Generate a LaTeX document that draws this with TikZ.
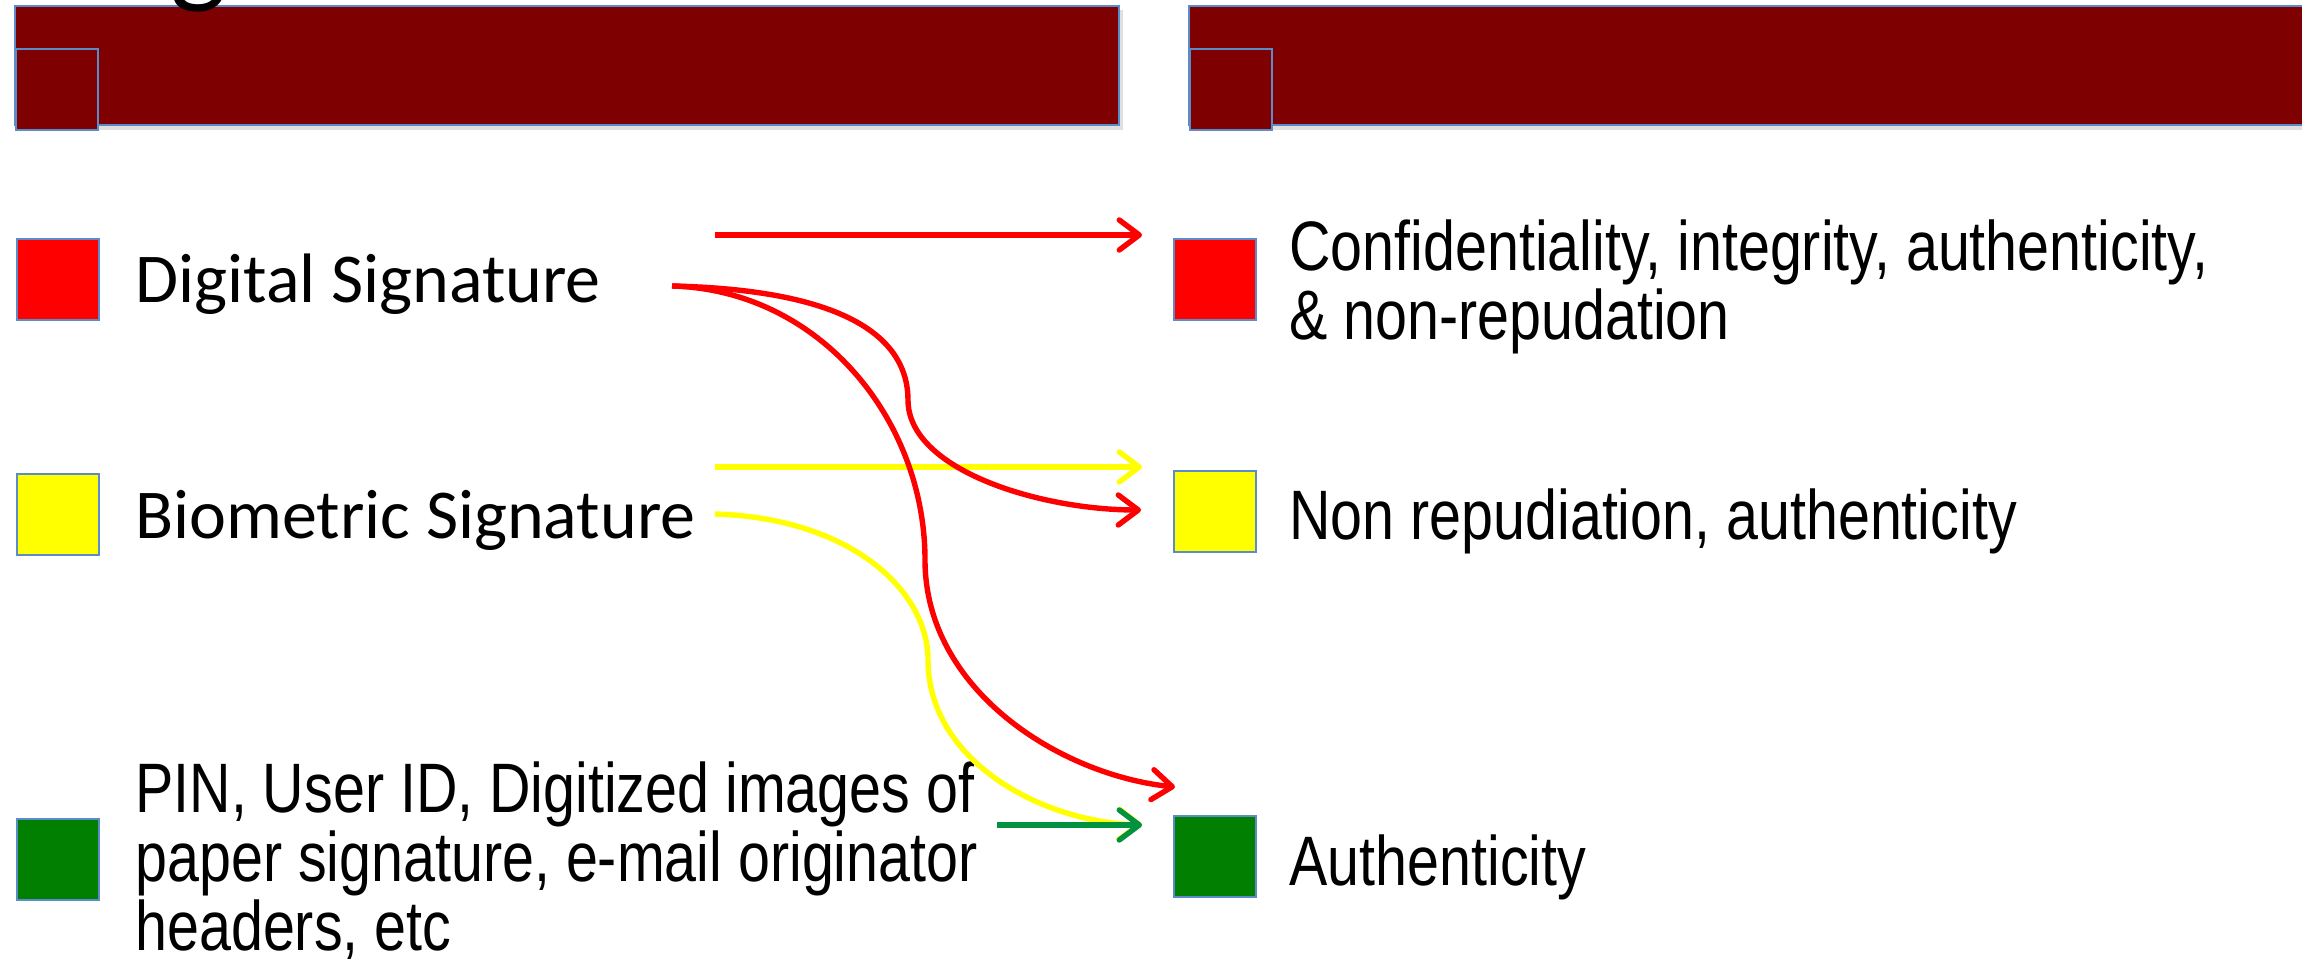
\documentclass[tikz,border=0pt]{standalone}
\usepackage{fontspec}
\setmainfont{Carlito}
\newfontfamily\narrowfont{Liberation Sans}[FakeStretch=0.82]
\usetikzlibrary{arrows.meta,calc}
\definecolor{maroonbar}{HTML}{7F0000}
\definecolor{boxedge}{HTML}{5B8BC9}
\definecolor{sqred}{HTML}{FF0000}
\definecolor{sqyellow}{HTML}{FFFF00}
\definecolor{sqgreen}{HTML}{007F00}
\definecolor{arrowgreen}{HTML}{00923F}
\begin{document}
\begin{tikzpicture}[x=0.5pt,y=-0.5pt,
  bar/.style={fill=maroonbar,draw=boxedge,line width=1.2pt},
  barshadow/.style={fill=black!12,draw=none},
  sq/.style={draw=boxedge,line width=1pt,minimum width=41pt,minimum height=40.5pt,inner sep=0pt,anchor=north west},
  lefttxt/.style={anchor=base west,inner sep=0pt,font=\fontsize{35}{40}\selectfont},
  righttxt/.style={anchor=base west,inner sep=0pt,align=left,font=\narrowfont\fontsize{35}{34.5}\selectfont},
  conn/.style={line width=2.7pt,line cap=butt,-{Straight Barb[length=10pt,width=15pt,line cap=round,line join=round]}},
]
\path[use as bounding box] (0,0) rectangle (2302,964);
\clip (0,0) rectangle (2302,964);

% header bars
\fill[barshadow] (19,10) rectangle (1123,130);
\fill[barshadow] (1193,10) rectangle (2310,130);
\path[bar] (15,6) rectangle (1119,125);
\path[bar] (1189,6) rectangle (2310,125);
\node[sq,fill=maroonbar,draw=boxedge,line width=1.2pt] (lh) at (15,48) {};
\node[sq,fill=maroonbar,draw=boxedge,line width=1.2pt] (rh) at (1189,48) {};
\node[anchor=base west,inner sep=0pt,font=\fontsize{60}{60}\selectfont] (title) at (170,-9) {g};

% left squares and texts
\node[sq,fill=sqred] (ls1) at (16,238) {};
\node[sq,fill=sqyellow] (ls2) at (16,473) {};
\node[sq,fill=sqgreen] (ls3) at (16,818) {};
\node[lefttxt] (dig) at (135,302) {Digital Signature};
\node[lefttxt] (bio) at (135,538) {Biometric Signature};
\node[righttxt] (pin) at (135,950) {PIN, User ID, Digitized images of\\paper signature, e-mail originator\\headers, etc};

% right squares and texts
\node[sq,fill=sqred] (rs1) at (1173,238) {};
\node[sq,fill=sqyellow] (rs2) at (1173,470) {};
\node[sq,fill=sqgreen] (rs3) at (1173,815) {};
\node[righttxt] (conf) at (1289,339) {Confidentiality, integrity, authenticity,\\\& non-repudation};
\node[righttxt] (nonrep) at (1289,539) {Non repudiation, authenticity};
\node[righttxt] (auth) at (1289,885) {Authenticity};

% connector end points
\coordinate (a1s) at (715,235);
\coordinate (a1e) at (1142,235);
\coordinate (a2s) at (715,467);
\coordinate (a2e) at (1142,467);
\coordinate (cs) at (672,286);
\coordinate (c1e) at (1141,510);
\coordinate (c2e) at (1175,787);
\coordinate (ys) at (715,514);
\coordinate (ge) at (1142,825);
\coordinate (gs) at (997,825);

% connectors
\draw[conn,sqred] (a1s) -- (a1e);
\draw[conn,sqyellow] (a2s) -- (a2e);
\draw[conn,sqred] (cs) .. controls (850,290) and (908,340) .. (908,400)
   .. controls (908,470) and (1040,510) .. (c1e);
\draw[conn,sqred] (cs) .. controls (820,290) and (925,420) .. (925,560)
   .. controls (925,690) and (1060,775) .. (c2e);
\draw[conn,sqyellow] (ys) .. controls (850,518) and (928,590) .. (928,660)
   .. controls (928,760) and (1040,822) .. (ge);
\draw[conn,arrowgreen] (gs) -- (ge);
\end{tikzpicture}
\end{document}
